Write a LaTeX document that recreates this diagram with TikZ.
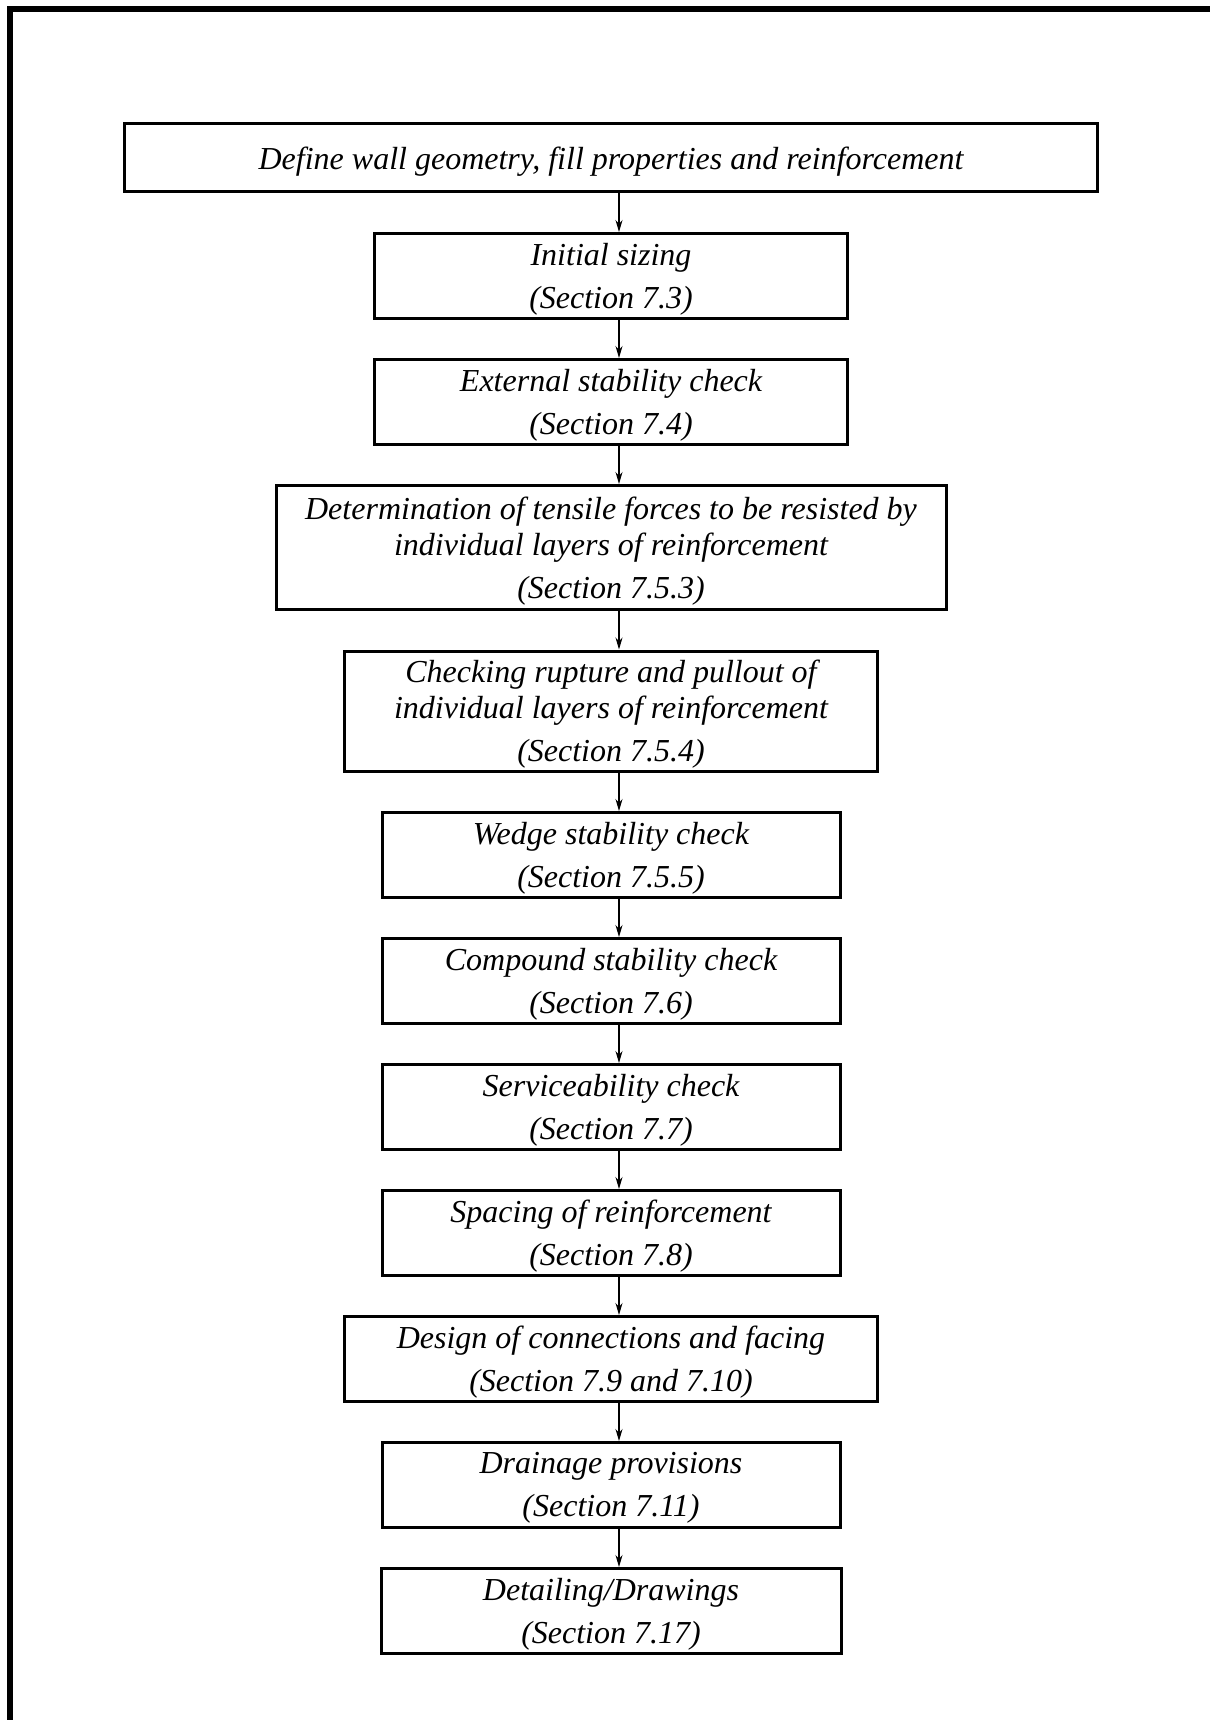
\documentclass[tikz,border=0pt]{standalone}
\usepackage{fontspec}
\setmainfont{Liberation Serif}
\usetikzlibrary{arrows.meta, positioning}

\begin{document}
\begin{tikzpicture}[
  node distance=38.5pt,
  stage/.style={rectangle, draw, line width=3pt, minimum height=84.5pt,
                inner sep=0pt, align=center, text depth=0pt,
                font=\fontsize{32}{36}\selectfont\itshape},
  arrow/.style={-{Stealth[length=12pt, width=7pt]}, line width=1.2pt}
]
  \useasboundingbox (0pt,0pt) rectangle (1210pt,-1720pt);
  % frame
  \draw[line width=6pt] (10pt,-1720pt) -- (10pt,-9pt) -- (1210pt,-9pt);

  % steps
  \node[stage, minimum width=973pt, minimum height=68pt] (define) at (611pt,-158pt)
    {Define wall geometry, fill properties and reinforcement};
  \node[stage, minimum width=473pt, below=of define] (sizing)
    {Initial sizing\\[7pt](Section 7.3)};
  \node[stage, minimum width=473pt, below=of sizing] (external)
    {External stability check\\[7pt](Section 7.4)};
  \node[stage, minimum width=670pt, minimum height=124pt, below=of external] (tensile)
    {Determination of tensile forces to be resisted by\\individual layers of reinforcement\\[7pt](Section 7.5.3)};
  \node[stage, minimum width=533pt, minimum height=120pt, below=of tensile] (rupture)
    {Checking rupture and pullout of\\individual layers of reinforcement\\[7pt](Section 7.5.4)};
  \node[stage, minimum width=458pt, below=of rupture] (wedge)
    {Wedge stability check\\[7pt](Section 7.5.5)};
  \node[stage, minimum width=458pt, below=of wedge] (compound)
    {Compound stability check\\[7pt](Section 7.6)};
  \node[stage, minimum width=458pt, below=of compound] (service)
    {Serviceability check\\[7pt](Section 7.7)};
  \node[stage, minimum width=458pt, below=of service] (spacing)
    {Spacing of reinforcement\\[7pt](Section 7.8)};
  \node[stage, minimum width=533pt, below=of spacing] (facing)
    {Design of connections and facing\\[7pt](Section 7.9 and 7.10)};
  \node[stage, minimum width=458pt, below=of facing] (drainage)
    {Drainage provisions\\[7pt](Section 7.11)};
  \node[stage, minimum width=460pt, below=of drainage] (detailing)
    {Detailing/Drawings\\[7pt](Section 7.17)};

  % arrows (a little right of the box centres)
  \draw[arrow] ([xshift=8pt]define.south) -- ([xshift=8pt]sizing.north);
  \draw[arrow] ([xshift=8pt]sizing.south) -- ([xshift=8pt]external.north);
  \draw[arrow] ([xshift=8pt]external.south) -- ([xshift=8pt]tensile.north);
  \draw[arrow] ([xshift=8pt]tensile.south) -- ([xshift=8pt]rupture.north);
  \draw[arrow] ([xshift=8pt]rupture.south) -- ([xshift=8pt]wedge.north);
  \draw[arrow] ([xshift=8pt]wedge.south) -- ([xshift=8pt]compound.north);
  \draw[arrow] ([xshift=8pt]compound.south) -- ([xshift=8pt]service.north);
  \draw[arrow] ([xshift=8pt]service.south) -- ([xshift=8pt]spacing.north);
  \draw[arrow] ([xshift=8pt]spacing.south) -- ([xshift=8pt]facing.north);
  \draw[arrow] ([xshift=8pt]facing.south) -- ([xshift=8pt]drainage.north);
  \draw[arrow] ([xshift=8pt]drainage.south) -- ([xshift=8pt]detailing.north);
\end{tikzpicture}
\end{document}
